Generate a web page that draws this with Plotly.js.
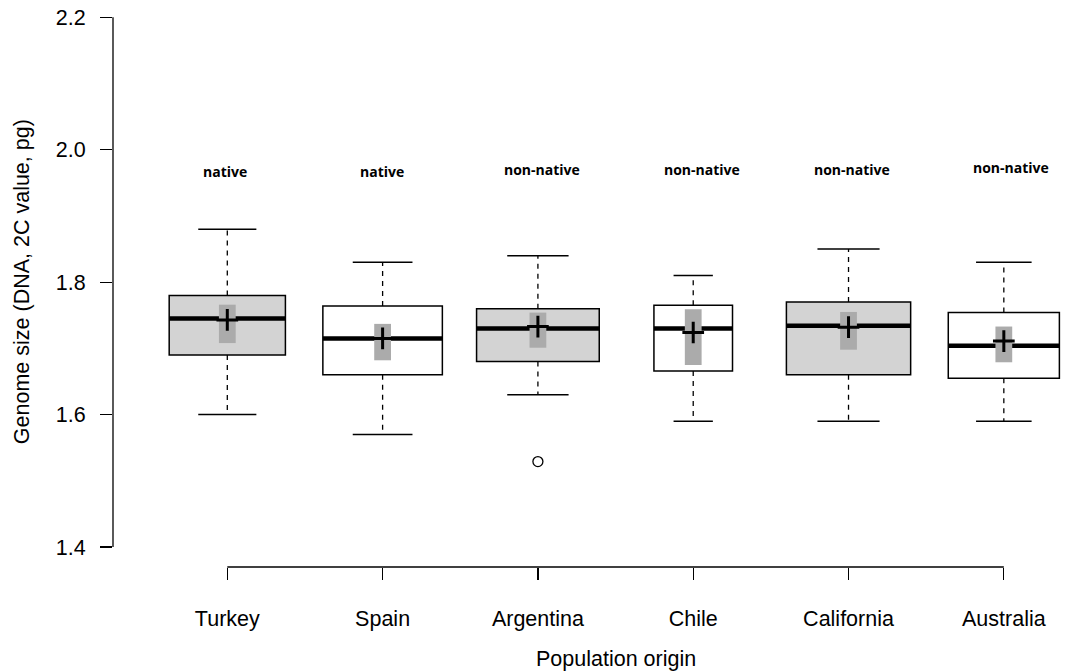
<!DOCTYPE html>
<html>
<head>
<meta charset="utf-8">
<script src="https://cdn.plot.ly/plotly-3.0.1.min.js"></script>
<style>html,body{margin:0;padding:0;background:#fff;}#chart{width:1068px;height:671px;}</style>
</head>
<body>
<div id="chart"></div>
<script>
// ---- data ----
const groups = ['Turkey', 'Spain', 'Argentina', 'Chile', 'California', 'Australia'];
const status = ['native', 'native', 'non-native', 'non-native', 'non-native', 'non-native'];
const sampleSize = [35, 37, 39, 16, 40, 32];
const lowerWhisker = [1.600, 1.570, 1.630, 1.590, 1.590, 1.590];
const q1 = [1.690, 1.660, 1.680, 1.666, 1.660, 1.655];
const median = [1.745, 1.715, 1.730, 1.730, 1.734, 1.704];
const q3 = [1.780, 1.764, 1.760, 1.765, 1.770, 1.754];
const upperWhisker = [1.880, 1.830, 1.840, 1.810, 1.850, 1.830];
const meanValue = [1.743, 1.715, 1.733, 1.724, 1.732, 1.711];
const ciLow = [1.708, 1.682, 1.701, 1.675, 1.698, 1.679];
const ciHigh = [1.766, 1.737, 1.754, 1.759, 1.755, 1.733];
const outlierGroup = ['Argentina'];
const outlierValue = [1.529];
const yTicks = [1.4, 1.6, 1.8, 2.0, 2.2];
const yTickLabels = ['1.4', '1.6', '1.8', '2.0', '2.2'];
const xTitle = 'Population origin';
const yTitle = 'Genome size (DNA, 2C value, pg)';

// ---- styling ----
const FONT = 'Liberation Sans, Arial, sans-serif';
const FS = 21.5;
const boxFill = ['#d3d3d3', '#ffffff', '#d3d3d3', '#ffffff', '#d3d3d3', '#ffffff'];
const maxN = Math.max(...sampleSize);
const boxWex = 0.8;
const widths = sampleSize.map(n => boxWex * Math.sqrt(n / maxN));
const ciHalf = 0.054;

const traces = [];
groups.forEach((g, i) => {
  traces.push({
    type: 'box', x: [i], q1: [q1[i]], median: [median[i]], q3: [q3[i]],
    lowerfence: [q1[i]], upperfence: [q3[i]], width: widths[i],
    boxpoints: false, fillcolor: boxFill[i],
    line: {color: '#000', width: 1.5}, hoverinfo: 'skip', showlegend: false
  });
});
groups.forEach((g, i) => {
  const hw = widths[i] / 2, cw = widths[i] / 4;
  traces.push({type: 'scatter', mode: 'lines', x: [i, i, null, i, i],
    y: [q3[i], upperWhisker[i], null, q1[i], lowerWhisker[i]],
    line: {color: '#000', width: 1.3, dash: '5px,5px'}, hoverinfo: 'skip', showlegend: false});
  traces.push({type: 'scatter', mode: 'lines', x: [i - cw, i + cw, null, i - cw, i + cw],
    y: [upperWhisker[i], upperWhisker[i], null, lowerWhisker[i], lowerWhisker[i]],
    line: {color: '#000', width: 1.5}, hoverinfo: 'skip', showlegend: false});
  traces.push({type: 'scatter', mode: 'lines', x: [i - hw, i + hw], y: [median[i], median[i]],
    line: {color: '#000', width: 4.5}, hoverinfo: 'skip', showlegend: false});
  traces.push({type: 'scatter', mode: 'lines', fill: 'toself', fillcolor: '#ababab',
    x: [i - ciHalf, i + ciHalf, i + ciHalf, i - ciHalf, i - ciHalf],
    y: [ciLow[i], ciLow[i], ciHigh[i], ciHigh[i], ciLow[i]],
    line: {width: 0, color: 'rgba(0,0,0,0)'}, hoverinfo: 'skip', showlegend: false});
});
traces.push({type: 'scatter', mode: 'markers', x: groups.map((g, i) => i), y: meanValue,
  marker: {symbol: 'cross-thin', size: 15.5, color: '#000', line: {color: '#000', width: 3}},
  hoverinfo: 'skip', showlegend: false});
traces.push({type: 'scatter', mode: 'markers', x: outlierGroup.map(g => groups.indexOf(g)), y: outlierValue,
  marker: {symbol: 'circle-open', size: 10, color: '#000', line: {color: '#000', width: 1.3}},
  hoverinfo: 'skip', showlegend: false});

// status labels
const labelY = [1.9675, 1.9675, 1.9705, 1.9705, 1.9705, 1.9735];
const labelShift = [-2, -1, 4, 9, 3, 7];
const annotations = status.map((s, i) => ({
  x: i, y: labelY[i], xref: 'x', yref: 'y', xshift: labelShift[i], text: s, showarrow: false,
  font: {family: 'Open Sans, sans-serif', size: 14, weight: 'bold', color: '#000'}
}));
// axis titles (centred on the data region, as in the reference)
annotations.push({
  text: xTitle, xref: 'x', x: (groups.length - 1) / 2, yref: 'paper', y: 0,
  yanchor: 'middle', yshift: -92, showarrow: false,
  font: {family: FONT, size: FS, color: '#000'}
});
annotations.push({
  text: yTitle, textangle: -90, xref: 'paper', x: 0, xanchor: 'center', xshift: -91,
  yref: 'y', y: (yTicks[0] + yTicks[yTicks.length - 1]) / 2, yanchor: 'middle', showarrow: false,
  font: {family: FONT, size: FS, color: '#000'}
});

const layout = {
  width: 1068, height: 671,
  margin: {l: 113, r: 5, t: 17, b: 104, pad: 0},
  paper_bgcolor: '#fff', plot_bgcolor: '#fff',
  showlegend: false, boxmode: 'overlay',
  font: {family: FONT, color: '#000'},
  xaxis: {
    range: [-0.736, 5.381], tickvals: groups.map((g, i) => i), ticktext: groups,
    ticks: 'outside', ticklen: 12, tickwidth: 1.3, tickcolor: '#000',
    showline: false, showgrid: false, zeroline: false, automargin: false,
    tickfont: {family: FONT, size: FS, color: '#000'}, ticklabelstandoff: 20
  },
  yaxis: {
    range: [1.3698, 2.2005], tickvals: yTicks, ticktext: yTickLabels,
    ticks: 'outside', ticklen: 12, tickwidth: 1.3, tickcolor: '#000',
    showline: false, showgrid: false, zeroline: false, automargin: false,
    tickfont: {family: FONT, size: FS, color: '#000'}, ticklabelstandoff: 10
  },
  shapes: [
    {type: 'line', xref: 'paper', x0: 0, x1: 0, yref: 'y', y0: yTicks[0], y1: yTicks[yTicks.length - 1],
     line: {color: '#000', width: 1.3}},
    {type: 'line', xref: 'x', x0: 0, x1: groups.length - 1, yref: 'paper', y0: 0, y1: 0,
     line: {color: '#000', width: 1.3}}
  ],
  annotations: annotations
};

Plotly.newPlot('chart', traces, layout, {staticPlot: true, displayModeBar: false});
</script>
</body>
</html>
